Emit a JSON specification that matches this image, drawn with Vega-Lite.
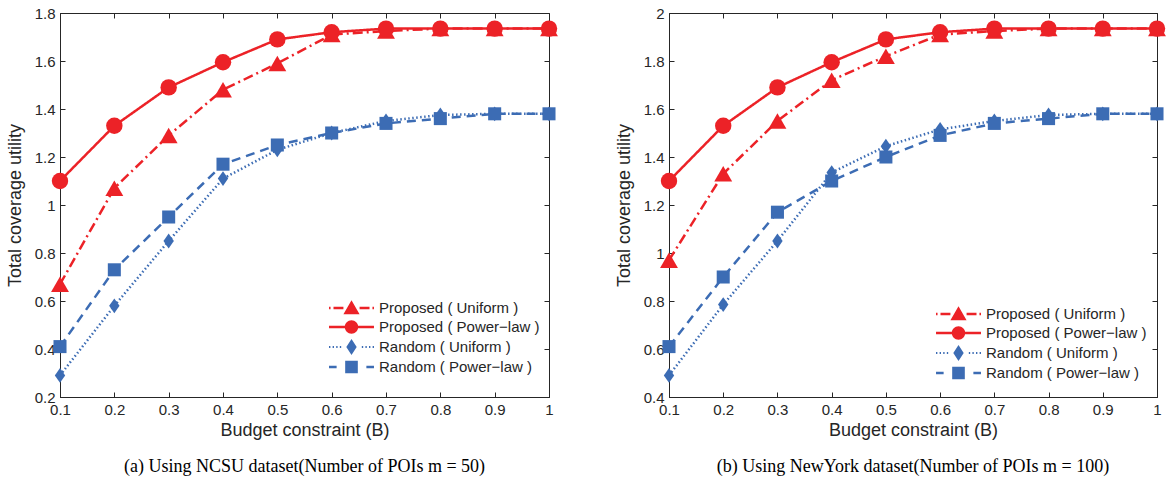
{
  "$schema": "https://vega.github.io/schema/vega-lite/v6.json",
  "background": "white",
  "padding": {"left": 5, "top": 5, "right": 5, "bottom": 5},
  "spacing": 120,
  "bounds": "flush",
  "resolve": {
    "scale": {"color": "independent", "fill": "independent", "stroke": "independent", "shape": "independent", "size": "independent", "strokeDash": "independent"},
    "legend": {"color": "independent", "fill": "independent", "stroke": "independent", "shape": "independent", "size": "independent", "strokeDash": "independent"}
  },
  "config": {
    "font": "Liberation Sans",
    "view": {"stroke": "#262626", "strokeWidth": 1},
    "axis": {
      "labelFont": "Liberation Sans", "labelFontSize": 15, "labelColor": "#262626",
      "titleFont": "Liberation Sans", "titleFontSize": 18, "titleFontWeight": "normal", "titleColor": "#262626",
      "domainColor": "#262626", "tickColor": "#262626", "tickSize": -5, "labelPadding": 10,
      "grid": false, "labelFlush": false, "labelOverlap": false, "labelBound": false
    },
    "legend": {"labelFont": "Liberation Sans", "labelFontSize": 15, "labelColor": "#262626", "labelLimit": 400},
    "title": {"font": "Liberation Serif", "fontSize": 18, "fontWeight": "normal", "color": "black"}
  },
  "datasets": {
    "d": [
      {"p": "NCSU", "s": "Proposed ( Uniform )", "b": 0.1, "u": 0.67},
      {"p": "NCSU", "s": "Proposed ( Uniform )", "b": 0.2, "u": 1.07},
      {"p": "NCSU", "s": "Proposed ( Uniform )", "b": 0.3, "u": 1.29},
      {"p": "NCSU", "s": "Proposed ( Uniform )", "b": 0.4, "u": 1.48},
      {"p": "NCSU", "s": "Proposed ( Uniform )", "b": 0.5, "u": 1.59},
      {"p": "NCSU", "s": "Proposed ( Uniform )", "b": 0.6, "u": 1.71},
      {"p": "NCSU", "s": "Proposed ( Uniform )", "b": 0.7, "u": 1.725},
      {"p": "NCSU", "s": "Proposed ( Uniform )", "b": 0.8, "u": 1.735},
      {"p": "NCSU", "s": "Proposed ( Uniform )", "b": 0.9, "u": 1.735},
      {"p": "NCSU", "s": "Proposed ( Uniform )", "b": 1.0, "u": 1.735},
      {"p": "NCSU", "s": "Proposed ( Power−law )", "b": 0.1, "u": 1.10},
      {"p": "NCSU", "s": "Proposed ( Power−law )", "b": 0.2, "u": 1.33},
      {"p": "NCSU", "s": "Proposed ( Power−law )", "b": 0.3, "u": 1.49},
      {"p": "NCSU", "s": "Proposed ( Power−law )", "b": 0.4, "u": 1.595},
      {"p": "NCSU", "s": "Proposed ( Power−law )", "b": 0.5, "u": 1.69},
      {"p": "NCSU", "s": "Proposed ( Power−law )", "b": 0.6, "u": 1.72},
      {"p": "NCSU", "s": "Proposed ( Power−law )", "b": 0.7, "u": 1.735},
      {"p": "NCSU", "s": "Proposed ( Power−law )", "b": 0.8, "u": 1.735},
      {"p": "NCSU", "s": "Proposed ( Power−law )", "b": 0.9, "u": 1.735},
      {"p": "NCSU", "s": "Proposed ( Power−law )", "b": 1.0, "u": 1.735},
      {"p": "NCSU", "s": "Random ( Uniform )", "b": 0.1, "u": 0.29},
      {"p": "NCSU", "s": "Random ( Uniform )", "b": 0.2, "u": 0.58},
      {"p": "NCSU", "s": "Random ( Uniform )", "b": 0.3, "u": 0.85},
      {"p": "NCSU", "s": "Random ( Uniform )", "b": 0.4, "u": 1.11},
      {"p": "NCSU", "s": "Random ( Uniform )", "b": 0.5, "u": 1.23},
      {"p": "NCSU", "s": "Random ( Uniform )", "b": 0.6, "u": 1.30},
      {"p": "NCSU", "s": "Random ( Uniform )", "b": 0.7, "u": 1.35},
      {"p": "NCSU", "s": "Random ( Uniform )", "b": 0.8, "u": 1.375},
      {"p": "NCSU", "s": "Random ( Uniform )", "b": 0.9, "u": 1.38},
      {"p": "NCSU", "s": "Random ( Uniform )", "b": 1.0, "u": 1.38},
      {"p": "NCSU", "s": "Random ( Power−law )", "b": 0.1, "u": 0.41},
      {"p": "NCSU", "s": "Random ( Power−law )", "b": 0.2, "u": 0.73},
      {"p": "NCSU", "s": "Random ( Power−law )", "b": 0.3, "u": 0.95},
      {"p": "NCSU", "s": "Random ( Power−law )", "b": 0.4, "u": 1.17},
      {"p": "NCSU", "s": "Random ( Power−law )", "b": 0.5, "u": 1.25},
      {"p": "NCSU", "s": "Random ( Power−law )", "b": 0.6, "u": 1.30},
      {"p": "NCSU", "s": "Random ( Power−law )", "b": 0.7, "u": 1.34},
      {"p": "NCSU", "s": "Random ( Power−law )", "b": 0.8, "u": 1.36},
      {"p": "NCSU", "s": "Random ( Power−law )", "b": 0.9, "u": 1.38},
      {"p": "NCSU", "s": "Random ( Power−law )", "b": 1.0, "u": 1.38},
      {"p": "NY", "s": "Proposed ( Uniform )", "b": 0.1, "u": 0.97},
      {"p": "NY", "s": "Proposed ( Uniform )", "b": 0.2, "u": 1.33},
      {"p": "NY", "s": "Proposed ( Uniform )", "b": 0.3, "u": 1.55},
      {"p": "NY", "s": "Proposed ( Uniform )", "b": 0.4, "u": 1.72},
      {"p": "NY", "s": "Proposed ( Uniform )", "b": 0.5, "u": 1.82},
      {"p": "NY", "s": "Proposed ( Uniform )", "b": 0.6, "u": 1.91},
      {"p": "NY", "s": "Proposed ( Uniform )", "b": 0.7, "u": 1.925},
      {"p": "NY", "s": "Proposed ( Uniform )", "b": 0.8, "u": 1.935},
      {"p": "NY", "s": "Proposed ( Uniform )", "b": 0.9, "u": 1.935},
      {"p": "NY", "s": "Proposed ( Uniform )", "b": 1.0, "u": 1.935},
      {"p": "NY", "s": "Proposed ( Power−law )", "b": 0.1, "u": 1.30},
      {"p": "NY", "s": "Proposed ( Power−law )", "b": 0.2, "u": 1.53},
      {"p": "NY", "s": "Proposed ( Power−law )", "b": 0.3, "u": 1.69},
      {"p": "NY", "s": "Proposed ( Power−law )", "b": 0.4, "u": 1.795},
      {"p": "NY", "s": "Proposed ( Power−law )", "b": 0.5, "u": 1.89},
      {"p": "NY", "s": "Proposed ( Power−law )", "b": 0.6, "u": 1.92},
      {"p": "NY", "s": "Proposed ( Power−law )", "b": 0.7, "u": 1.935},
      {"p": "NY", "s": "Proposed ( Power−law )", "b": 0.8, "u": 1.935},
      {"p": "NY", "s": "Proposed ( Power−law )", "b": 0.9, "u": 1.935},
      {"p": "NY", "s": "Proposed ( Power−law )", "b": 1.0, "u": 1.935},
      {"p": "NY", "s": "Random ( Uniform )", "b": 0.1, "u": 0.49},
      {"p": "NY", "s": "Random ( Uniform )", "b": 0.2, "u": 0.785},
      {"p": "NY", "s": "Random ( Uniform )", "b": 0.3, "u": 1.05},
      {"p": "NY", "s": "Random ( Uniform )", "b": 0.4, "u": 1.335},
      {"p": "NY", "s": "Random ( Uniform )", "b": 0.5, "u": 1.445},
      {"p": "NY", "s": "Random ( Uniform )", "b": 0.6, "u": 1.515},
      {"p": "NY", "s": "Random ( Uniform )", "b": 0.7, "u": 1.55},
      {"p": "NY", "s": "Random ( Uniform )", "b": 0.8, "u": 1.575},
      {"p": "NY", "s": "Random ( Uniform )", "b": 0.9, "u": 1.58},
      {"p": "NY", "s": "Random ( Uniform )", "b": 1.0, "u": 1.58},
      {"p": "NY", "s": "Random ( Power−law )", "b": 0.1, "u": 0.61},
      {"p": "NY", "s": "Random ( Power−law )", "b": 0.2, "u": 0.90},
      {"p": "NY", "s": "Random ( Power−law )", "b": 0.3, "u": 1.17},
      {"p": "NY", "s": "Random ( Power−law )", "b": 0.4, "u": 1.30},
      {"p": "NY", "s": "Random ( Power−law )", "b": 0.5, "u": 1.40},
      {"p": "NY", "s": "Random ( Power−law )", "b": 0.6, "u": 1.49},
      {"p": "NY", "s": "Random ( Power−law )", "b": 0.7, "u": 1.54},
      {"p": "NY", "s": "Random ( Power−law )", "b": 0.8, "u": 1.56},
      {"p": "NY", "s": "Random ( Power−law )", "b": 0.9, "u": 1.58},
      {"p": "NY", "s": "Random ( Power−law )", "b": 1.0, "u": 1.58}
    ]
  },
  "hconcat": [
    {
      "width": 489,
      "height": 384,
      "data": {"name": "d"},
      "transform": [{"filter": "datum.p === 'NCSU'"}],
      "title": {"text": "(a) Using NCSU dataset(Number of POIs m = 50)", "orient": "bottom", "anchor": "middle", "offset": 19},
      "layer": [
        {
          "mark": {"type": "line", "strokeWidth": 2.5},
          "encoding": {
            "x": {"field": "b", "type": "quantitative", "scale": {"domain": [0.1, 1], "nice": false, "zero": false},
                  "axis": {"values": [0.1,0.2,0.3,0.4,0.5,0.6,0.7,0.8,0.9,1], "format": "~g", "title": "Budget constraint (B)", "titlePadding": 4}},
            "y": {"field": "u", "type": "quantitative", "scale": {"domain": [0.2, 1.8], "nice": false, "zero": false},
                  "axis": {"values": [0.2,0.4,0.6,0.8,1,1.2,1.4,1.6,1.8], "format": "~g", "title": "Total coverage utility", "titlePadding": 10}},
            "stroke": {"field": "s", "type": "nominal", "legend": null,
                      "scale": {"domain": ["Proposed ( Power−law )", "Proposed ( Uniform )", "Random ( Power−law )", "Random ( Uniform )"], "range": ["#EC2227", "#EC2227", "#3C6CB4", "#3C6CB4"]}},
            "strokeDash": {"field": "s", "type": "nominal", "legend": null,
                      "scale": {"domain": ["Random ( Uniform )", "Random ( Power−law )", "Proposed ( Power−law )", "Proposed ( Uniform )"], "range": [[1.5, 2.5], [9, 6], [1, 0], [10, 4, 2, 4]]}}
          }
        },
        {
          "mark": {"type": "point", "filled": true, "opacity": 1},
          "encoding": {
            "x": {"field": "b", "type": "quantitative", "scale": {"domain": [0.1, 1], "nice": false, "zero": false},
                  "axis": {"orient": "top", "values": [0.1,0.2,0.3,0.4,0.5,0.6,0.7,0.8,0.9,1], "labels": false, "title": null, "domain": false}},
            "y": {"field": "u", "type": "quantitative", "scale": {"domain": [0.2, 1.8], "nice": false, "zero": false},
                  "axis": {"orient": "right", "values": [0.2,0.4,0.6,0.8,1,1.2,1.4,1.6,1.8], "labels": false, "title": null, "domain": false}},
            "fill": {"field": "s", "type": "nominal", "legend": null,
                      "scale": {"domain": ["Random ( Uniform )", "Proposed ( Uniform )", "Random ( Power−law )", "Proposed ( Power−law )"], "range": ["#3C6CB4", "#EC2227", "#3C6CB4", "#EC2227"]}},
            "size": {"field": "s", "type": "nominal", "legend": null,
                      "scale": {"domain": ["Random ( Power−law )", "Random ( Uniform )", "Proposed ( Power−law )", "Proposed ( Uniform )"], "range": [170, 320, 180, 256]}},
            "shape": {"field": "s", "type": "nominal", "legend": null,
                      "scale": {"domain": ["Proposed ( Uniform )", "Random ( Uniform )", "Proposed ( Power−law )", "Random ( Power−law )"], "range": ["triangle-up", "M0,-1L0.7,0L0,1L-0.7,0Z", "circle", "square"]}}
          }
        },
        {
          "transform": [{"filter": "false"}],
          "mark": {"type": "point", "filled": true, "opacity": 1},
          "encoding": {
            "x": {"field": "b", "type": "quantitative", "axis": null},
            "y": {"field": "u", "type": "quantitative", "axis": null},
            "color": {"field": "s", "type": "nominal",
                      "scale": {"domain": ["Proposed ( Uniform )", "Proposed ( Power−law )", "Random ( Uniform )", "Random ( Power−law )"], "range": ["#EC2227", "#EC2227", "#3C6CB4", "#3C6CB4"]},
                      "legend": {"orient": "none", "legendX": 283.5, "legendY": 287, "title": null, "padding": 0, "symbolSize": 256, "rowPadding": 3, "labelOffset": 19.5, "symbolStrokeWidth": 0, "symbolOpacity": 1}},
            "shape": {"field": "s", "type": "nominal",
                      "scale": {"domain": ["Proposed ( Uniform )", "Proposed ( Power−law )", "Random ( Uniform )", "Random ( Power−law )"],
                                "range": ["M-2.81,-0.156H-2.62V0.156H-2.81ZM-2.25,-0.156H-1.01V0.156H-2.25ZM1.01,-0.156H2.25V0.156H1.01ZM2.62,-0.156H2.81V0.156H2.62ZM0,-0.96L1.01,0.79L-1.01,0.79Z",
                                          "M-2.81,-0.156H2.81V0.156H-2.81ZM-0.84,0A0.84,0.84,0,1,1,0.84,0A0.84,0.84,0,1,1,-0.84,0Z",
                                          "M-2.81,-0.125H-2.64V0.125H-2.81ZM-2.36,-0.125H-2.19V0.125H-2.36ZM-1.91,-0.125H-1.74V0.125H-1.91ZM-1.46,-0.125H-1.29V0.125H-1.46ZM1.29,-0.125H1.46V0.125H1.29ZM1.74,-0.125H1.91V0.125H1.74ZM2.19,-0.125H2.36V0.125H2.19ZM2.64,-0.125H2.81V0.125H2.64ZM0,-1.01L0.65,0L0,1.01L-0.65,0Z",
                                          "M-2.81,-0.156H-1.86V0.156H-2.81ZM1.86,-0.156H2.81V0.156H1.86ZM-0.79,-0.79H0.79V0.79H-0.79Z"]},
                      "legend": {"orient": "none", "legendX": 283.5, "legendY": 287, "title": null, "padding": 0, "symbolSize": 256, "rowPadding": 3, "labelOffset": 19.5, "symbolStrokeWidth": 0, "symbolOpacity": 1}}
          }
        }
      ],
      "resolve": {"axis": {"x": "independent", "y": "independent"}, "scale": {"shape": "independent", "color": "independent"}, "legend": {"shape": "independent", "color": "independent"}}
    },
    {
      "width": 488,
      "height": 384,
      "data": {"name": "d"},
      "transform": [{"filter": "datum.p === 'NY'"}],
      "title": {"text": "(b) Using NewYork dataset(Number of POIs m = 100)", "orient": "bottom", "anchor": "middle", "offset": 19},
      "layer": [
        {
          "mark": {"type": "line", "strokeWidth": 2.5},
          "encoding": {
            "x": {"field": "b", "type": "quantitative", "scale": {"domain": [0.1, 1], "nice": false, "zero": false},
                  "axis": {"values": [0.1,0.2,0.3,0.4,0.5,0.6,0.7,0.8,0.9,1], "format": "~g", "title": "Budget constraint (B)", "titlePadding": 4}},
            "y": {"field": "u", "type": "quantitative", "scale": {"domain": [0.4, 2], "nice": false, "zero": false},
                  "axis": {"values": [0.4,0.6,0.8,1,1.2,1.4,1.6,1.8,2], "format": "~g", "title": "Total coverage utility", "titlePadding": 10}},
            "stroke": {"field": "s", "type": "nominal", "legend": null,
                      "scale": {"domain": ["Proposed ( Power−law )", "Proposed ( Uniform )", "Random ( Power−law )", "Random ( Uniform )"], "range": ["#EC2227", "#EC2227", "#3C6CB4", "#3C6CB4"]}},
            "strokeDash": {"field": "s", "type": "nominal", "legend": null,
                      "scale": {"domain": ["Random ( Uniform )", "Random ( Power−law )", "Proposed ( Power−law )", "Proposed ( Uniform )"], "range": [[1.5, 2.5], [9, 6], [1, 0], [10, 4, 2, 4]]}}
          }
        },
        {
          "mark": {"type": "point", "filled": true, "opacity": 1},
          "encoding": {
            "x": {"field": "b", "type": "quantitative", "scale": {"domain": [0.1, 1], "nice": false, "zero": false},
                  "axis": {"orient": "top", "values": [0.1,0.2,0.3,0.4,0.5,0.6,0.7,0.8,0.9,1], "labels": false, "title": null, "domain": false}},
            "y": {"field": "u", "type": "quantitative", "scale": {"domain": [0.4, 2], "nice": false, "zero": false},
                  "axis": {"orient": "right", "values": [0.4,0.6,0.8,1,1.2,1.4,1.6,1.8,2], "labels": false, "title": null, "domain": false}},
            "fill": {"field": "s", "type": "nominal", "legend": null,
                      "scale": {"domain": ["Random ( Uniform )", "Proposed ( Uniform )", "Random ( Power−law )", "Proposed ( Power−law )"], "range": ["#3C6CB4", "#EC2227", "#3C6CB4", "#EC2227"]}},
            "size": {"field": "s", "type": "nominal", "legend": null,
                      "scale": {"domain": ["Random ( Power−law )", "Random ( Uniform )", "Proposed ( Power−law )", "Proposed ( Uniform )"], "range": [170, 320, 180, 256]}},
            "shape": {"field": "s", "type": "nominal", "legend": null,
                      "scale": {"domain": ["Proposed ( Uniform )", "Random ( Uniform )", "Proposed ( Power−law )", "Random ( Power−law )"], "range": ["triangle-up", "M0,-1L0.7,0L0,1L-0.7,0Z", "circle", "square"]}}
          }
        },
        {
          "transform": [{"filter": "false"}],
          "mark": {"type": "point", "filled": true, "opacity": 1},
          "encoding": {
            "x": {"field": "b", "type": "quantitative", "axis": null},
            "y": {"field": "u", "type": "quantitative", "axis": null},
            "color": {"field": "s", "type": "nominal",
                      "scale": {"domain": ["Proposed ( Uniform )", "Proposed ( Power−law )", "Random ( Uniform )", "Random ( Power−law )"], "range": ["#EC2227", "#EC2227", "#3C6CB4", "#3C6CB4"]},
                      "legend": {"orient": "none", "legendX": 281.5, "legendY": 293, "title": null, "padding": 0, "symbolSize": 256, "rowPadding": 3, "labelOffset": 19.5, "symbolStrokeWidth": 0, "symbolOpacity": 1}},
            "shape": {"field": "s", "type": "nominal",
                      "scale": {"domain": ["Proposed ( Uniform )", "Proposed ( Power−law )", "Random ( Uniform )", "Random ( Power−law )"],
                                "range": ["M-2.81,-0.156H-2.62V0.156H-2.81ZM-2.25,-0.156H-1.01V0.156H-2.25ZM1.01,-0.156H2.25V0.156H1.01ZM2.62,-0.156H2.81V0.156H2.62ZM0,-0.96L1.01,0.79L-1.01,0.79Z",
                                          "M-2.81,-0.156H2.81V0.156H-2.81ZM-0.84,0A0.84,0.84,0,1,1,0.84,0A0.84,0.84,0,1,1,-0.84,0Z",
                                          "M-2.81,-0.125H-2.64V0.125H-2.81ZM-2.36,-0.125H-2.19V0.125H-2.36ZM-1.91,-0.125H-1.74V0.125H-1.91ZM-1.46,-0.125H-1.29V0.125H-1.46ZM1.29,-0.125H1.46V0.125H1.29ZM1.74,-0.125H1.91V0.125H1.74ZM2.19,-0.125H2.36V0.125H2.19ZM2.64,-0.125H2.81V0.125H2.64ZM0,-1.01L0.65,0L0,1.01L-0.65,0Z",
                                          "M-2.81,-0.156H-1.86V0.156H-2.81ZM1.86,-0.156H2.81V0.156H1.86ZM-0.79,-0.79H0.79V0.79H-0.79Z"]},
                      "legend": {"orient": "none", "legendX": 281.5, "legendY": 293, "title": null, "padding": 0, "symbolSize": 256, "rowPadding": 3, "labelOffset": 19.5, "symbolStrokeWidth": 0, "symbolOpacity": 1}}
          }
        }
      ],
      "resolve": {"axis": {"x": "independent", "y": "independent"}, "scale": {"shape": "independent", "color": "independent"}, "legend": {"shape": "independent", "color": "independent"}}
    }
  ]
}
